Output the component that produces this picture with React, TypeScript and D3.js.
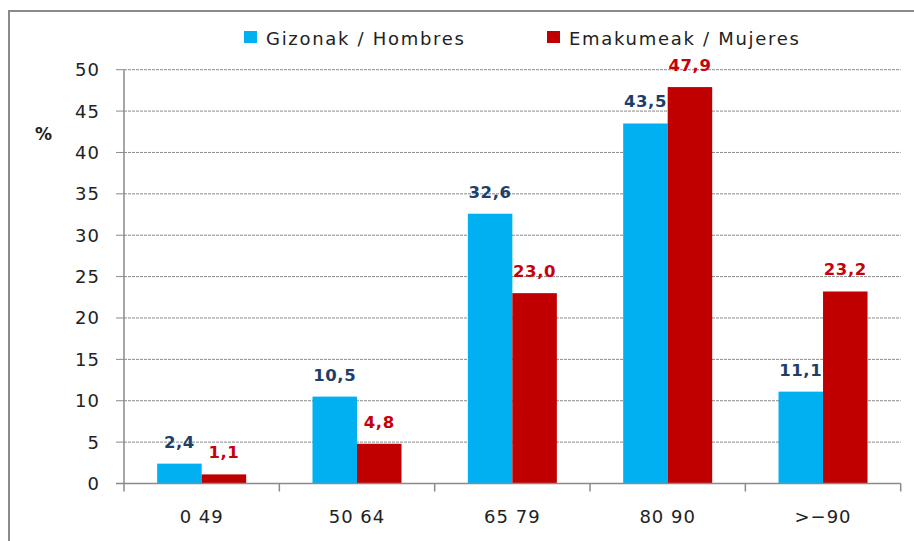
import React from 'react';
import * as d3 from 'd3';

const categories = ['0 49', '50 64', '65 79', '80 90', '>−90'];
const hombres = [2.4, 10.5, 32.6, 43.5, 11.1];
const mujeres = [1.1, 4.8, 23.0, 47.9, 23.2];
const seriesNames = ['Gizonak / Hombres', 'Emakumeak / Mujeres'];
const yTicks = [0, 5, 10, 15, 20, 25, 30, 35, 40, 45, 50];

const fill = ['#00B0F0', '#C00000'];
const labelFill = ['#1F3E6B', '#C8000A'];
const font = '"DejaVu Sans", Verdana, sans-serif';

export default function App() {
  const width = 914;
  const height = 541;
  const left = 124;
  const right = 900.7;
  const top = 69.7;
  const bottom = 483.5;

  const x = d3.scaleBand<string>().domain(categories).range([left, right])
    .paddingInner(0.427).paddingOuter(0.2135);
  const y = d3.scaleLinear().domain([0, 50]).range([bottom, top]);
  const barW = x.bandwidth() / 2;
  const fmt = (v: number) => v.toFixed(1).replace('.', ',');

  const series = [hombres, mujeres];
  const step = x.step();

  return (
    <svg width={width} height={height} style={{ position: 'absolute', left: 0, top: 0, background: '#fff' }}>
      <rect x={9} y={11} width={width} height={height} fill="#fff" stroke="#8a8a8a" strokeWidth={2} />

      {/* legend */}
      {seriesNames.map((name, i) => {
        const lx = i === 0 ? 244 : 547;
        return (
          <g key={name}>
            <rect x={lx} y={31} width={13} height={12} fill={fill[i]} />
            <text x={lx + 22} y={45} fontFamily={font} fontSize={18} letterSpacing={1.7} fill="#222">{name}</text>
          </g>
        );
      })}

      {/* grid */}
      {yTicks.map((t) => (
        <g key={t}>
          {t > 0 && (
            <line x1={left} x2={right} y1={y(t)} y2={y(t)} stroke="#8a8a8a" strokeWidth={1} strokeDasharray="3,1" />
          )}
          <line x1={left - 8} x2={left} y1={y(t)} y2={y(t)} stroke="#8a8a8a" strokeWidth={1} />
          <text x={100} y={y(t)} dy="0.36em" textAnchor="end" fontFamily={font} fontSize={18} letterSpacing={1} fill="#222">{t}</text>
        </g>
      ))}
      <text x={35} y={140} fontFamily={font} fontSize={17} fontWeight="bold" fill="#222">%</text>

      {/* bars */}
      {categories.map((c, ci) => (
        <g key={c}>
          {series.map((s, si) => {
            const bx = (x(c) ?? 0) + si * barW;
            return (
              <g key={si}>
                <rect x={bx} y={y(s[ci])} width={barW} height={bottom - y(s[ci])} fill={fill[si]} />
                <text x={bx + barW / 2} y={y(s[ci]) - 16} textAnchor="middle" fontFamily={font} fontWeight="bold" fontSize={16.5} letterSpacing={0.6} fill={labelFill[si]}>{fmt(s[ci])}</text>
              </g>
            );
          })}
          <text x={(x(c) ?? 0) + x.bandwidth() / 2} y={523} textAnchor="middle" fontFamily={font} fontSize={18} letterSpacing={1} fill="#222">{c}</text>
        </g>
      ))}

      {/* axes */}
      <line x1={left} x2={left} y1={top} y2={bottom} stroke="#8a8a8a" strokeWidth={1.5} />
      <line x1={left - 8} x2={right} y1={bottom} y2={bottom} stroke="#8a8a8a" strokeWidth={1.5} />
      {d3.range(categories.length + 1).map((i) => (
        <line key={i} x1={left + i * step} x2={left + i * step} y1={bottom} y2={bottom + 8} stroke="#8a8a8a" strokeWidth={1.5} />
      ))}
    </svg>
  );
}
